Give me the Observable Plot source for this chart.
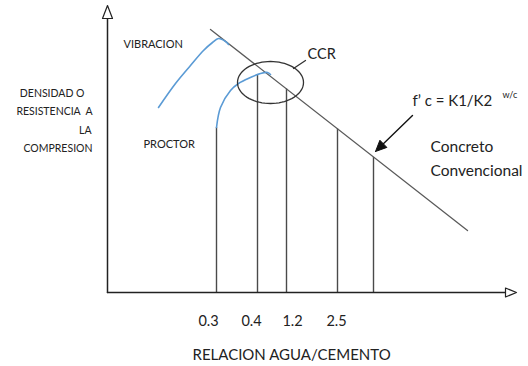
<!DOCTYPE html>
<html><head><meta charset="utf-8">
<script src="https://cdn.jsdelivr.net/npm/d3@7"></script>
<script src="https://cdn.jsdelivr.net/npm/@observablehq/plot@0.6"></script>
<style>body{margin:0;background:#fff}#chart svg{display:block}</style>
</head><body><div id="chart"></div>
<script>
// Schematic coordinates: x = water/cement direction, y = density/strength (arbitrary units)
const vibracion = [[51,185],[68,209],[83,227],[96,242],[105,250],[111,254],[118,251],[121,248]];
const proctor = [[109,165],[113,185],[123,202],[131,209],[143,215],[153,219],[160,220],[163,218]];
const conventional = [[103,263],[360,62]]; // f'c = K1/K2^(w/c)
const dropX = [109,150,179,230,266];
const dropTop = [165,217,203.5,163.5,135];
const tickLabels = ["0.3","0.4","1.2","2.5"];
const tickLabelX = [101,144,185,229];
const ccr = {cx:163, cy:210, rx:33, ry:21};
const ccrLeader = [[186,224],[198,232]];
const arrowFrom = [305,177], arrowTo = [268,141];
const yAxisTop = 274, yArrowTip = 287, xAxisEnd = 398, xArrowTip = 409;

const texts = [
  {t:"VIBRACION", x:16, y:245, s:11, a:"start"},
  {t:"PROCTOR", x:36, y:145, s:11, a:"start"},
  {t:"DENSIDAD O", x:-23, y:196, s:10.5, a:"end"},
  {t:"RESISTENCIA  A", x:-15, y:178, s:10.5, a:"end"},
  {t:"LA", x:-16, y:159, s:10.5, a:"end"},
  {t:"COMPRESION", x:-15, y:141, s:10.5, a:"end"},
  {t:"CCR", x:200, y:234, s:14.5, a:"start"},
  {t:"f\u2019 c = K1/K2", x:305, y:187, s:15, a:"start"},
  {t:"w/c", x:395, y:195, s:9, a:"start"},
  {t:"Concreto", x:323, y:141, s:15.5, a:"start"},
  {t:"Convencional", x:323, y:117, s:15.5, a:"start"},
  {t:"RELACION AGUA/CEMENTO", x:85, y:-67, s:15, a:"start"}
];

const ellipse = d3.range(0, 361, 5).map(d => {
  const r = d*Math.PI/180;
  return [ccr.cx + ccr.rx*Math.cos(r), ccr.cy + ccr.ry*Math.sin(r)];
});
// filled arrow head
const ang = Math.atan2(arrowTo[1]-arrowFrom[1], arrowTo[0]-arrowFrom[0]);
const hl = 11, hw = 5;
const bx = arrowTo[0]-hl*Math.cos(ang), by = arrowTo[1]-hl*Math.sin(ang);
const head = [[arrowTo[0],arrowTo[1]],[bx+hw*Math.sin(ang), by-hw*Math.cos(ang)],[bx-hw*Math.sin(ang), by+hw*Math.cos(ang)],[arrowTo[0],arrowTo[1]]];
const shaft = [arrowFrom,[bx,by]];

const yArrow = [[-5,yAxisTop],[5,yAxisTop],[0,yArrowTip],[-5,yAxisTop]];
const xArrow = [[xAxisEnd,4.5],[xAxisEnd,-4.5],[xArrowTip,0],[xAxisEnd,4.5]];
const drops = dropX.map((x,i)=>({x, y1:0, y2:dropTop[i]}));
const ticks = tickLabels.map((t,i)=>({t, x:tickLabelX[i]}));

const font = "Lato, 'Open Sans', sans-serif";
const chart = Plot.plot({
  width:528, height:366,
  marginLeft:0, marginRight:0, marginTop:0, marginBottom:0,
  x:{domain:[0,421], range:[107,528], axis:null},
  y:{domain:[0,292], range:[292,0], axis:null},
  style:{fontFamily:font, background:"#fff"},
  marks:[
    Plot.ruleX(drops, {x:"x", y1:"y1", y2:"y2", stroke:"#4a4a4a", strokeWidth:1.4}),
    Plot.line(conventional, {x:d=>d[0], y:d=>d[1], stroke:"#5a5a5a", strokeWidth:1.3}),
    Plot.line(vibracion, {x:d=>d[0], y:d=>d[1], curve:"catmull-rom", stroke:"#5b9bd5", strokeWidth:1.6}),
    Plot.line(proctor, {x:d=>d[0], y:d=>d[1], curve:"catmull-rom", stroke:"#5b9bd5", strokeWidth:1.6}),
    Plot.line(ellipse, {x:d=>d[0], y:d=>d[1], curve:"linear-closed", stroke:"#333", strokeWidth:1.3}),
    Plot.line(ccrLeader, {x:d=>d[0], y:d=>d[1], stroke:"#333", strokeWidth:1.3}),
    Plot.line(shaft, {x:d=>d[0], y:d=>d[1], stroke:"#111", strokeWidth:1.4}),
    Plot.line(head, {x:d=>d[0], y:d=>d[1], fill:"#111", stroke:"#111", strokeWidth:1}),
    Plot.line([[0,0],[0,yAxisTop]], {x:d=>d[0], y:d=>d[1], stroke:"#222", strokeWidth:1.5}),
    Plot.line([[0,0],[xAxisEnd,0]], {x:d=>d[0], y:d=>d[1], stroke:"#222", strokeWidth:1.5}),
    Plot.line(yArrow, {x:d=>d[0], y:d=>d[1], fill:"#fff", stroke:"#222", strokeWidth:1.2}),
    Plot.line(xArrow, {x:d=>d[0], y:d=>d[1], fill:"#fff", stroke:"#222", strokeWidth:1.2}),
    Plot.text(ticks, {x:"x", y:-33, text:"t", fontSize:14.5, fill:"#222", textAnchor:"middle", lineAnchor:"bottom"}),
    ...texts.map(d => Plot.text([d], {x:"x", y:"y", text:"t", fontSize:d.s, textAnchor:d.a, lineAnchor:"bottom", fill:"#222"}))
  ]
});
document.getElementById("chart").appendChild(chart);
</script></body></html>
